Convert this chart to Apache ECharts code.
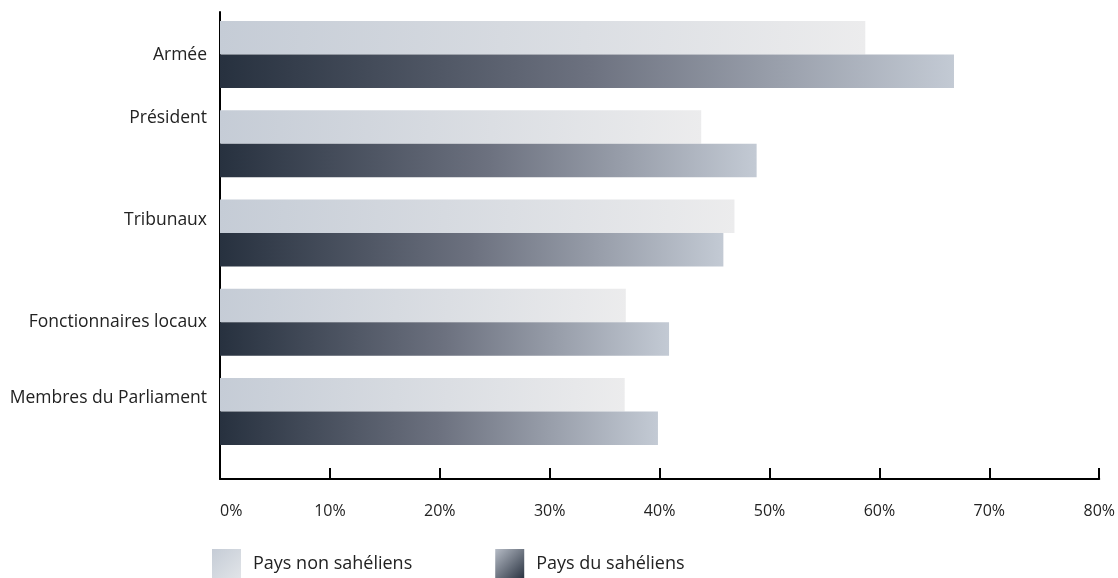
<!DOCTYPE html>
<html>
<head>
<meta charset="utf-8">
<script src="https://cdn.jsdelivr.net/npm/echarts@6/dist/echarts.min.js"></script>
<style>
html,body{margin:0;padding:0;background:#fff;overflow:hidden;}
#c{width:1118px;height:578px;}
</style>
</head>
<body>
<div id="c"></div>
<script>
var categories = ['Armée', 'Président', 'Tribunaux', 'Fonctionnaires locaux', 'Membres du Parliament'];
var seriesNames = ['Pays non sahéliens', 'Pays du sahéliens'];
var nonSahel = [58.2, 43.4, 46.4, 36.6, 36.5];
var sahel = [66.2, 48.4, 45.4, 40.5, 39.5];
var tickLabels = ['0%', '10%', '20%', '30%', '40%', '50%', '60%', '70%', '80%'];

var FONT = 'Open Sans';
// number of blank lines appended to each category label (lifts it slightly above the group centre, as in the reference)
var labelLift = [0, 2, 1, 0, 1];

function grad(x2, y2, stops) {
  return new echarts.graphic.LinearGradient(0, 0, x2, y2, stops.map(function (s) { return { offset: s[0], color: s[1] }; }));
}
var lightFill = grad(1, 1, [[0, '#c5ccd6'], [1, '#ececed']]);
var darkFill = grad(1, 0, [[0, '#27313f'], [0.5, '#6c717f'], [1, '#c3cad4']]);

var chart = echarts.init(document.getElementById('c'), null, { renderer: 'canvas' });
chart.setOption({
  animation: false,
  textStyle: { fontFamily: FONT },
  grid: [
    { left: 220, right: 11, top: 10, bottom: 122 },
    { left: 220, right: 11, top: 12, bottom: 99 }
  ],
  legend: {
    left: 207, top: 544,
    itemWidth: 29, itemHeight: 29, itemGap: 83,
    icon: 'rect',
    textStyle: { fontFamily: FONT, fontSize: 18, color: '#222', padding: [4, 0, 0, 7] },
    data: [
      { name: seriesNames[0], itemStyle: { color: grad(1, 1, [[0, '#c5ccd6'], [1, '#e1e4e8']]) } },
      { name: seriesNames[1], itemStyle: { color: grad(1, 1, [[0, '#b6bcc6'], [1, '#2b3442']]) } }
    ]
  },
  xAxis: [
    { gridIndex: 0, type: 'value', min: 0, max: 80, interval: 10, show: false },
    {
      gridIndex: 1, type: 'value', min: 0, max: 80, interval: 10,
      axisLine: { show: true, lineStyle: { color: '#000', width: 2 } },
      axisTick: { show: true, inside: true, length: 11, lineStyle: { color: '#000', width: 2 } },
      splitLine: { show: false },
      axisLabel: {
        margin: 24, fontFamily: FONT, fontSize: 16, color: '#222', alignMinLabel: 'left',
        formatter: function (v) { return tickLabels[Math.round(v / 10)]; }
      }
    }
  ],
  yAxis: [
    {
      gridIndex: 0, type: 'category', inverse: true,
      data: categories,
      axisLine: { show: false }, axisTick: { show: false },
      axisLabel: {
        margin: 13, fontFamily: FONT, fontSize: 17.5, color: '#222', lineHeight: 26,
        formatter: function (v, i) { var s = v; for (var k = 0; k < labelLift[i]; k++) s += '\n '; return s; }
      }
    },
    {
      gridIndex: 1, type: 'value', min: 0, max: 1,
      axisLine: { show: true, lineStyle: { color: '#000', width: 2 } },
      axisTick: { show: false }, axisLabel: { show: false }, splitLine: { show: false }
    }
  ],
  series: [
    {
      name: seriesNames[0], type: 'bar', xAxisIndex: 0, yAxisIndex: 0,
      data: nonSahel, barWidth: 33.5, barGap: '0%',
      itemStyle: { color: lightFill }
    },
    {
      name: seriesNames[1], type: 'bar', xAxisIndex: 0, yAxisIndex: 0,
      data: sahel, barWidth: 33.5, barGap: '0%',
      itemStyle: { color: darkFill }
    }
  ]
});
</script>
</body>
</html>
